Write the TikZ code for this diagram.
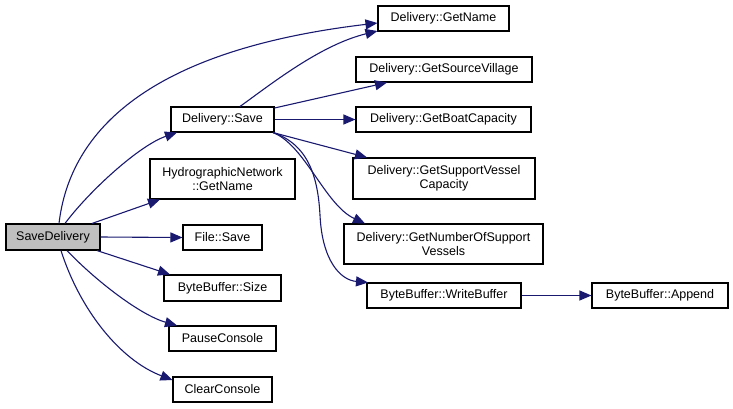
\documentclass[tikz,border=0pt]{standalone}
\usepackage{fontspec}
\setmainfont{Liberation Sans}
\usetikzlibrary{arrows.meta}
\definecolor{edgeblue}{HTML}{191970}
\definecolor{rootgray}{HTML}{BFBFBF}
\begin{document}
\begin{tikzpicture}[x=1pt, y=-1pt,
  fn/.style={draw=black, line width=1.1pt, inner sep=0pt, align=center,
    font=\fontsize{12.5}{14}\selectfont},
  call/.style={edgeblue, line width=1.1pt, -{Triangle[length=12pt,width=10pt]}}]

  \useasboundingbox (0,0) rectangle (733,408);

  % caller
  \node[fn, fill=rootgray, minimum width=94pt, minimum height=26pt] (sd) at (53,237) {SaveDelivery};

  % direct callees
  \node[fn, minimum width=103pt, minimum height=25pt] (dsave) at (222.5,119.5) {Delivery::Save};
  \node[fn, minimum width=145pt, minimum height=40pt] (hname) at (222.5,179) {HydrographicNetwork\\::GetName};
  \node[fn, minimum width=79pt,  minimum height=25pt] (fsave) at (222.5,237.5) {File::Save};
  \node[fn, minimum width=117pt, minimum height=26pt] (bsize) at (222.5,288) {ByteBuffer::Size};
  \node[fn, minimum width=107pt, minimum height=25pt] (pause) at (222.5,338.5) {PauseConsole};
  \node[fn, minimum width=99pt,  minimum height=25pt] (clear) at (222.5,389.5) {ClearConsole};

  % called from Delivery::Save
  \node[fn, minimum width=131pt, minimum height=25pt] (gname) at (443.5,18.5) {Delivery::GetName};
  \node[fn, minimum width=176pt, minimum height=25pt] (gsrc)  at (444,69.5) {Delivery::GetSourceVillage};
  \node[fn, minimum width=175pt, minimum height=25pt] (gboat) at (443.5,119.5) {Delivery::GetBoatCapacity};
  \node[fn, minimum width=182pt, minimum height=41pt] (gcap)  at (444,178.5) {Delivery::GetSupportVessel\\Capacity};
  \node[fn, minimum width=199pt, minimum height=40pt] (gnum)  at (443.5,244) {Delivery::GetNumberOfSupport\\Vessels};
  \node[fn, minimum width=154pt, minimum height=25pt] (wbuf)  at (444,295.5) {ByteBuffer::WriteBuffer};
  \node[fn, minimum width=136pt, minimum height=25pt] (app)   at (660,295.5) {ByteBuffer::Append};

  % SaveDelivery calls
  \draw[call] ([xshift=6pt]sd.north) .. controls (70,130) and (150,50) .. ([yshift=-4.5pt]gname.west);
  \draw[call] ([xshift=12pt]sd.north) .. controls (90,190) and (140,145) .. ([xshift=-45.5pt]dsave.south);
  \draw[call] ([xshift=39pt]sd.north) -- ([xshift=-62.5pt]hname.south);
  \draw[call] (sd.east) -- (fsave.west);
  \draw[call] ([xshift=44pt]sd.south) -- ([xshift=-52.5pt]bsize.north);
  \draw[call] ([xshift=14pt]sd.south) .. controls (95,280) and (140,315) .. ([xshift=-45.5pt]pause.north);
  \draw[call] ([xshift=8pt]sd.south) .. controls (80,310) and (120,360) .. ([yshift=9.5pt]clear.west);

  % Delivery::Save calls
  \draw[call] ([xshift=17.5pt]dsave.north) .. controls (270,85) and (320,45) .. ([yshift=-12.5pt]gname.west);
  \draw[call] ([yshift=11.5pt]dsave.east) -- ([xshift=-57pt]gsrc.south);
  \draw[call] (dsave.east) -- (gboat.west);
  \draw[call] ([xshift=50.5pt]dsave.south) -- ([xshift=-77pt]gcap.north);
  \draw[call] ([xshift=50.5pt]dsave.south) .. controls (305,145) and (325,205) .. ([xshift=-78.5pt]gnum.north);
  \draw[call] ([xshift=50.5pt]dsave.south) .. controls (310,145) and (318,180) .. (320,215)
    .. controls (322,260) and (340,280) .. ([xshift=-76pt]wbuf.north);

  % WriteBuffer call
  \draw[call] (wbuf.east) -- (app.west);

\end{tikzpicture}
\end{document}
